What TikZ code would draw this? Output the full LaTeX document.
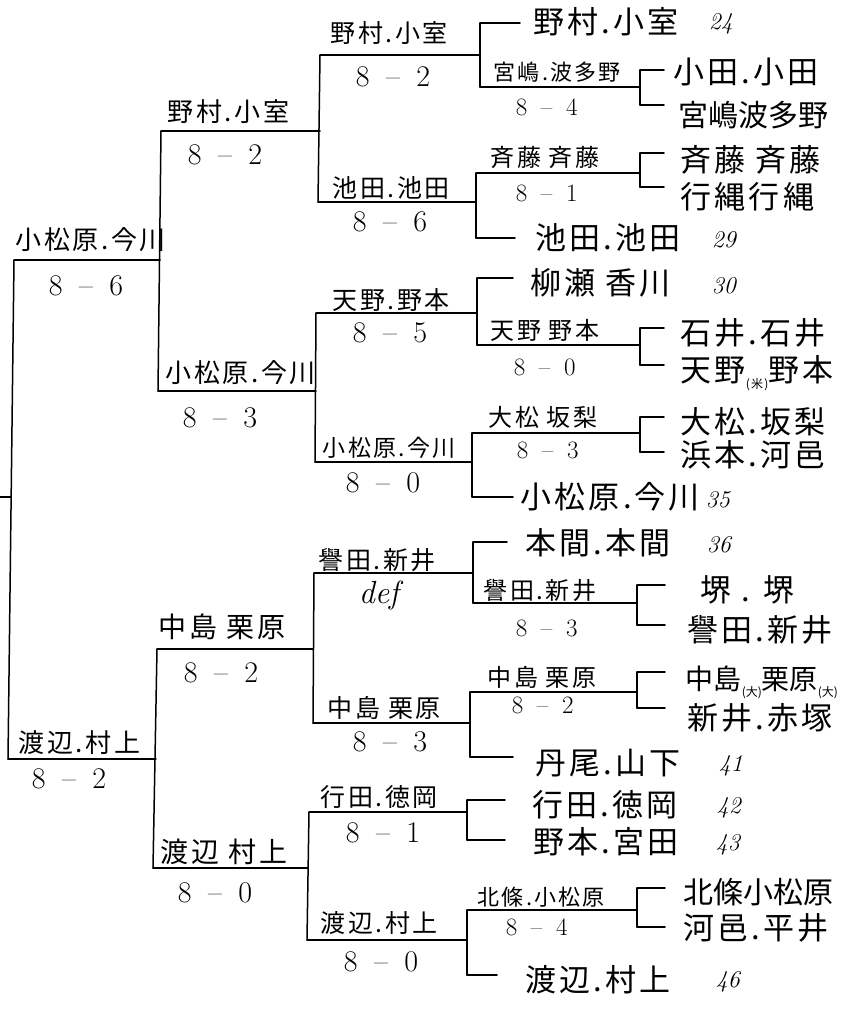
\documentclass[tikz,border=0pt]{standalone}
\usepackage{fontspec}
\newfontfamily\jp[LetterSpace=10]{Noto Sans CJK JP}
\newfontfamily\jpn{Noto Sans CJK JP}
\newcommand\sco[2]{#1\hspace{0.55em}–\hspace{0.55em}#2}
\newcommand\mseg[4]{\coordinate (#1-l) at (#2,#3); \coordinate (#1-r) at (#4,#3); \draw (#1-l) -- (#1-r);}
\newcommand\smallp[1]{\raisebox{-7pt}{\fontsize{12}{12}\selectfont(#1)}}
\tikzset{
  lbl/.style={anchor=west, inner sep=0pt},
  jr/.style={lbl, font=\jp\fontsize{26}{26}\selectfont},
  jw/.style={lbl, font=\jp\fontsize{28}{28}\selectfont},
  jm/.style={lbl, font=\jp\fontsize{25}{25}\selectfont},
  j4/.style={lbl, font=\jp\fontsize{22}{22}\selectfont},
  j4w/.style={lbl, font=\jp\fontsize{24}{24}\selectfont},
  jl/.style={lbl, font=\jp\fontsize{31}{31}\selectfont},
  jn/.style={lbl, font=\jpn\fontsize{30}{30}\selectfont},
  sc/.style={lbl, font=\fontsize{30}{30}\selectfont},
  s4/.style={lbl, font=\fontsize{25}{25}\selectfont},
  nm/.style={lbl, font=\itshape\fontsize{24}{24}\selectfont},
}
\begin{document}
\begin{tikzpicture}[x=1pt,y=-1pt,line width=1.5pt,line cap=round]
\useasboundingbox (0,0) rectangle (845,1013);
\clip (0,0) rectangle (845,1013);
% ---------- lines ----------
% root
\coordinate (f0) at (0,497); \coordinate (f1) at (11,497);
\draw (f0) -- (f1);
\mseg{a}{14}{260}{160}
\mseg{b}{8}{759}{156}
\draw (a-l) -- (b-l);
% column 2
\mseg{a1}{161}{131}{320}
\mseg{a2}{158}{391}{316}
\mseg{b1}{157}{649}{313}
\mseg{b2}{153}{868}{308}
\draw (a1-l) -- (a2-l);
\draw (b1-l) -- (b2-l);
% column 3
\mseg{a11}{320}{55}{480}
\mseg{a12}{318}{202}{476}
\mseg{a21}{316}{313}{477}
\mseg{a22}{315}{462}{472}
\mseg{b11}{314}{573}{473}
\mseg{b12}{313}{723}{470}
\mseg{b21}{309}{812}{467}
\mseg{b22}{307}{940}{467}
\draw (a11-l) -- (a12-l);
\draw (a21-l) -- (a22-l);
\draw (b11-l) -- (b12-l);
\draw (b21-l) -- (b22-l);
% column 4
\mseg{p1}{480}{23}{520}
\mseg{m1}{480}{87}{640}
\draw (p1-l) -- (m1-l);
\mseg{m2}{476}{173}{640}
\mseg{p2}{476}{238}{515}
\draw (m2-l) -- (p2-l);
\mseg{p3}{477}{278}{513}
\mseg{m3}{477}{345}{640}
\draw (p3-l) -- (m3-l);
\mseg{m4}{472}{433}{640}
\mseg{p4}{472}{497}{513}
\draw (m4-l) -- (p4-l);
\mseg{p5}{473}{542}{507}
\mseg{m5}{473}{603}{637}
\draw (p5-l) -- (m5-l);
\mseg{m6}{470}{692}{637}
\mseg{p6}{470}{757}{513}
\draw (m6-l) -- (p6-l);
\mseg{p7}{467}{800}{505}
\mseg{p8}{467}{840}{505}
\draw (p7-l) -- (p8-l);
\mseg{m7}{467}{910}{637}
\mseg{p9}{467}{975}{497}
\draw (m7-l) -- (p9-l);
% column 5
\mseg{q1}{640}{70}{664}   \mseg{q2}{640}{105}{664} \draw (q1-l) -- (q2-l);
\mseg{q3}{640}{153}{664}  \mseg{q4}{640}{187}{664} \draw (q3-l) -- (q4-l);
\mseg{q5}{640}{328}{664}  \mseg{q6}{640}{365}{664} \draw (q5-l) -- (q6-l);
\mseg{q7}{640}{417}{664}  \mseg{q8}{640}{452}{664} \draw (q7-l) -- (q8-l);
\mseg{q9}{637}{585}{665}  \mseg{q10}{637}{625}{665} \draw (q9-l) -- (q10-l);
\mseg{q11}{637}{672}{665} \mseg{q12}{637}{708}{665} \draw (q11-l) -- (q12-l);
\mseg{q13}{637}{888}{665} \mseg{q14}{637}{927}{665} \draw (q13-l) -- (q14-l);
% ---------- texts ----------
% root
\node[jr] (t-a) at (15,240) {小松原.今川};
\node[sc] (s-a) at (48,286) {\sco86};
\node[jr] (t-b) at (18,743) {渡辺.村上};
\node[sc] (s-b) at (31,779) {\sco82};
% column 2
\node[jr] (t-a1) at (167,112) {野村.小室};
\node[sc] (s-a1) at (187,155) {\sco82};
\node[jr] (t-a2) at (165,373) {小松原.今川};
\node[sc] (s-a2) at (182,418) {\sco83};
\node[jw] (t-b1) at (158,627) {中島 栗原};
\node[sc] (s-b1) at (183,673) {\sco82};
\node[jw] (t-b2) at (160,852) {渡辺 村上};
\node[sc] (s-b2) at (177,893) {\sco80};
% column 3
\node[jm] (t-a11) at (330,33) {野村.小室};
\node[sc] (s-a11) at (355,77) {\sco82};
\node[jm] (t-a12) at (332,188) {池田.池田};
\node[sc] (s-a12) at (352,222) {\sco86};
\node[jm] (t-a21) at (332,300) {天野.野本};
\node[sc] (s-a21) at (352,333) {\sco85};
\node[lbl, font=\jp\fontsize{23}{23}\selectfont] (t-a22) at (322,448) {小松原.今川};
\node[sc] (s-a22) at (345,483) {\sco80};
\node[jm] (t-b11) at (318,560) {譽田.新井};
\node[lbl,font=\itshape\fontsize{32}{32}\selectfont] (s-b11) at (358,595) {def};
\node[jm] (t-b12) at (327,708) {中島 栗原};
\node[sc] (s-b12) at (352,742) {\sco83};
\node[jm] (t-b21) at (320,797) {行田.徳岡};
\node[sc] (s-b21) at (345,833) {\sco81};
\node[jm] (t-b22) at (320,923) {渡辺.村上};
\node[sc] (s-b22) at (343,962) {\sco80};
% column 4
\node[j4] (t-m1) at (493,72) {宮嶋.波多野};
\node[s4] (s-m1) at (515,107) {\sco84};
\node[j4w] (t-m2) at (490,157) {斉藤 斉藤};
\node[s4] (s-m2) at (515,193) {\sco81};
\node[j4w] (t-m3) at (490,330) {天野 野本};
\node[s4] (s-m3) at (513,367) {\sco80};
\node[j4w] (t-m4) at (488,417) {大松 坂梨};
\node[s4] (s-m4) at (516,450) {\sco83};
\node[j4w] (t-m5) at (483,590) {譽田.新井};
\node[s4] (s-m5) at (515,628) {\sco83};
\node[j4w] (t-m6) at (487,677) {中島 栗原};
\node[s4] (s-m6) at (511,705) {\sco82};
\node[j4] (t-m7) at (477,897) {北條.小松原};
\node[s4] (s-m7) at (505,927) {\sco84};
% leaves
\node[jl] (l1) at (533,22) {野村.小室};   \node[nm] (n1) at (708,24) {24};
\node[jl] (l2) at (673,72) {小田.小田};
\node[jn] (l3) at (678,115) {宮嶋波多野};
\node[jl] (l4) at (680,160) {斉藤 斉藤};
\node[jl] (l5) at (680,197) {行縄行縄};
\node[jl] (l6) at (535,238) {池田.池田};   \node[nm] (n6) at (711,240) {29};
\node[jl] (l7) at (530,283) {柳瀬 香川};   \node[nm] (n7) at (711,286) {30};
\node[jl] (l8) at (680,333) {石井.石井};
\node[jl] (l9) at (680,373) {天野\smallp{米}野本};
\node[jl] (l10) at (680,422) {大松.坂梨};
\node[jl] (l11) at (680,455) {浜本.河邑};
\node[jl] (l12) at (520,497) {小松原.今川}; \node[nm] (n12) at (705,500) {35};
\node[jl] (l13) at (525,543) {本間.本間};  \node[nm] (n13) at (706,545) {36};
\node[jl] (l14) at (700,590) {堺 . 堺};
\node[jl] (l15) at (687,630) {譽田.新井};
\node[lbl, font=\jpn\fontsize{28}{28}\selectfont] (l16) at (685,682) {中島\smallp{大}栗原\smallp{大}};
\node[jl] (l17) at (687,718) {新井.赤塚};
\node[jl] (l18) at (535,763) {丹尾.山下};  \node[nm] (n18) at (718,766) {41};
\node[jl] (l19) at (532,805) {行田.徳岡};  \node[nm] (n19) at (716,808) {42};
\node[jl] (l20) at (533,842) {野本.宮田};  \node[nm] (n20) at (715,845) {43};
\node[jn] (l21) at (683,892) {北條小松原};
\node[jl] (l22) at (683,928) {河邑.平井};
\node[jl] (l23) at (525,980) {渡辺.村上};  \node[nm] (n23) at (715,982) {46};
\end{tikzpicture}
\end{document}
